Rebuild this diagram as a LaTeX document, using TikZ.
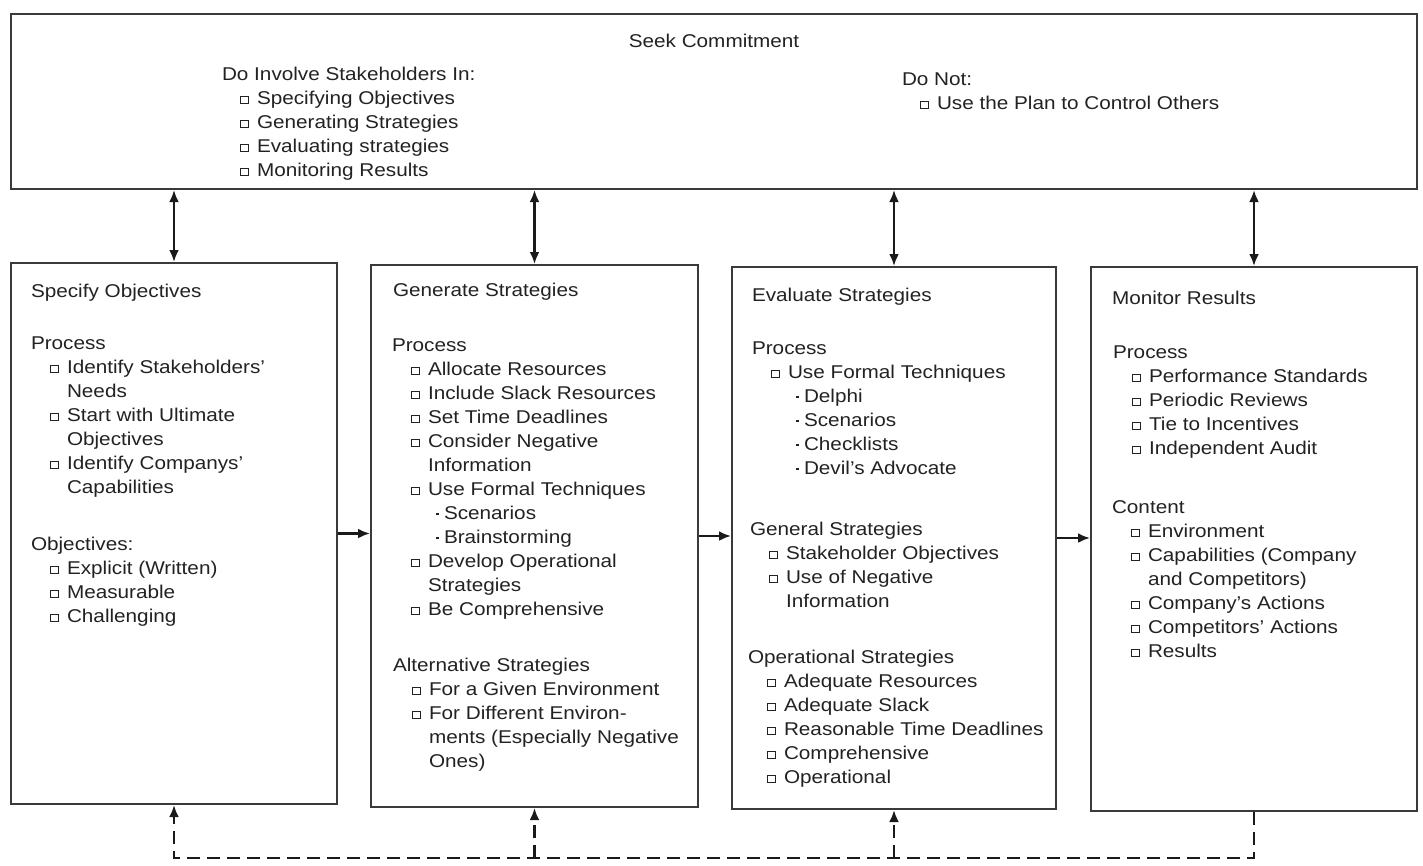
\documentclass[tikz,border=0pt]{standalone}
\usepackage{fontspec}
\setmainfont{Liberation Sans}[FakeStretch=1.12]
\usetikzlibrary{arrows.meta}
\definecolor{ink}{HTML}{222222}
\definecolor{frame}{HTML}{3A3A3A}
\definecolor{arr}{HTML}{1A1A1A}
\newcommand\sqbox{\makebox[17pt][l]{\raisebox{0.8pt}{\setlength\fboxsep{0pt}\setlength\fboxrule{0.8pt}\fbox{\rule{0pt}{6.5pt}\hspace{7pt}}}}}
\newcommand\itm[1]{\hspace*{19pt}\sqbox #1}
\newcommand\titm[1]{\hspace*{18pt}\sqbox #1}
\newcommand\contl[1]{\hspace*{36pt}#1}
\newcommand\bulit[1]{\hspace*{44pt}\makebox[8pt][l]{\raisebox{3.6pt}{\rule{2.8pt}{2.8pt}}}#1}
\tikzset{
  txt/.style={inner sep=0pt, outer sep=0pt, anchor=north west, align=left, text=ink,
    font=\fontsize{18.5}{24}\selectfont},
  panel/.style={draw=frame, line width=2pt, inner sep=0pt, anchor=north west},
  link/.style={draw=arr, line width=2.6pt, -{Latex[length=12pt,width=10pt]}},
  dlink/.style={draw=arr, line width=2.6pt, {Latex[length=12pt,width=10pt]}-{Latex[length=12pt,width=10pt]}},
  fbline/.style={draw=arr, line width=2.8pt, dash pattern=on 13pt off 7pt},
}
\begin{document}
\begin{tikzpicture}[x=1pt,y=1pt]
\useasboundingbox (0,0) rectangle (1423,-865);
% panels
\node[panel, minimum width=1406pt, minimum height=175pt] (top) at (10,-13) {};
\node[panel, minimum width=326pt, minimum height=541pt] (b1) at (10,-262) {};
\node[panel, minimum width=327pt, minimum height=542pt] (b2) at (370,-264) {};
\node[panel, minimum width=324pt, minimum height=542pt] (b3) at (731,-266) {};
\node[panel, minimum width=326pt, minimum height=544pt] (b4) at (1090,-266) {};
% top texts
\node[txt, anchor=base] (seek) at (714,-47) {Seek Commitment};
\node[txt] (doinv) at (222,-63.2) {\strut Do Involve Stakeholders In:\\
  \titm{Specifying Objectives}\\
  \titm{Generating Strategies}\\
  \titm{Evaluating strategies}\\
  \titm{Monitoring Results}};
\node[txt] (donot) at (902,-68.2) {\strut Do Not:\\
  \titm{Use the Plan to Control Others}};
% box 1
\node[txt] (t1) at (31,-280.2) {\strut Specify Objectives};
\node[txt] (p1) at (31,-332.2) {\strut Process\\
  \itm{Identify Stakeholders'}\\
  \contl{Needs}\\
  \itm{Start with Ultimate}\\
  \contl{Objectives}\\
  \itm{Identify Companys'}\\
  \contl{Capabilities}};
\node[txt] (o1) at (31,-533.2) {\strut Objectives:\\
  \itm{Explicit (Written)}\\
  \itm{Measurable}\\
  \itm{Challenging}};
% box 2
\node[txt] (t2) at (393,-279.2) {\strut Generate Strategies};
\node[txt] (p2) at (392,-334.2) {\strut Process\\
  \itm{Allocate Resources}\\
  \itm{Include Slack Resources}\\
  \itm{Set Time Deadlines}\\
  \itm{Consider Negative}\\
  \contl{Information}\\
  \itm{Use Formal Techniques}\\
  \bulit{Scenarios}\\
  \bulit{Brainstorming}\\
  \itm{Develop Operational}\\
  \contl{Strategies}\\
  \itm{Be Comprehensive}};
\node[txt] (a2) at (393,-654.2) {\strut Alternative Strategies\\
  \itm{For a Given Environment}\\
  \itm{For Different Environ-}\\
  \contl{ments (Especially Negative}\\
  \contl{Ones)}};
% box 3
\node[txt] (t3) at (752,-284.2) {\strut Evaluate Strategies};
\node[txt] (p3) at (752,-337.2) {\strut Process\\
  \itm{Use Formal Techniques}\\
  \bulit{Delphi}\\
  \bulit{Scenarios}\\
  \bulit{Checklists}\\
  \bulit{Devil's Advocate}};
\node[txt] (g3) at (750,-518.2) {\strut General Strategies\\
  \itm{Stakeholder Objectives}\\
  \itm{Use of Negative}\\
  \contl{Information}};
\node[txt] (s3) at (748,-646.2) {\strut Operational Strategies\\
  \itm{Adequate Resources}\\
  \itm{Adequate Slack}\\
  \itm{Reasonable Time Deadlines}\\
  \itm{Comprehensive}\\
  \itm{Operational}};
% box 4
\node[txt] (t4) at (1112,-287.2) {\strut Monitor Results};
\node[txt] (p4) at (1113,-341.2) {\strut Process\\
  \itm{Performance Standards}\\
  \itm{Periodic Reviews}\\
  \itm{Tie to Incentives}\\
  \itm{Independent Audit}};
\node[txt] (c4) at (1112,-496.2) {\strut Content\\
  \itm{Environment}\\
  \itm{Capabilities (Company}\\
  \contl{and Competitors)}\\
  \itm{Company's Actions}\\
  \itm{Competitors' Actions}\\
  \itm{Results}};
% connectors
\draw[dlink] (top.south -| b1.north) -- (b1.north);
\draw[dlink] (top.south -| b2.north) -- (b2.north);
\draw[dlink] (top.south -| b3.north) -- (b3.north);
\draw[dlink] (top.south -| b4.north) -- (b4.north);
\draw[link] (b1.east) -- (b1.east -| b2.west);
\draw[link] (b2.east) -- (b2.east -| b3.west);
\draw[link] (b3.east) -- (b3.east -| b4.west);
\coordinate (fb) at (0,-858);
\draw[fbline, -{Latex[length=12pt,width=10pt]}] (b4.south) -- (b4.south |- fb) -- (b1.south |- fb) -- (b1.south);
\draw[fbline, -{Latex[length=12pt,width=10pt]}] (b2.south |- fb) -- (b2.south);
\draw[fbline, -{Latex[length=12pt,width=10pt]}] (b3.south |- fb) -- (b3.south);
\end{tikzpicture}
\end{document}
